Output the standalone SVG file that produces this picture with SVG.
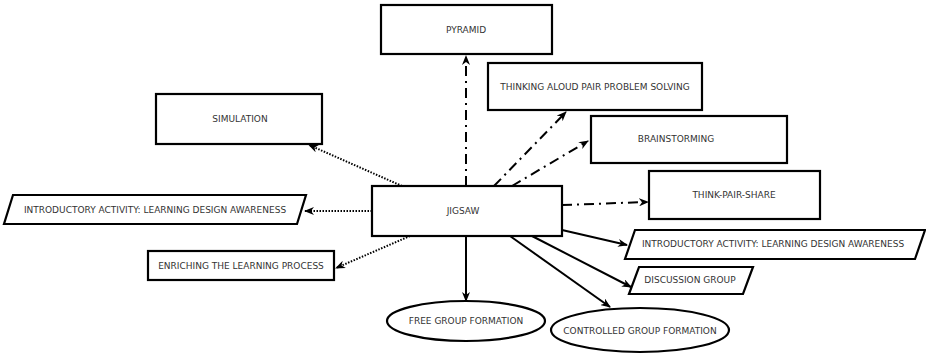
<svg xmlns="http://www.w3.org/2000/svg" width="926" height="359" viewBox="0 0 926 359">
  <style>
    .box { fill: #fff; stroke: #000; stroke-width: 2.2; }
    .lbl { font-family: "DejaVu Sans", "Liberation Sans", sans-serif; font-size: 9px; fill: #333; text-anchor: middle; dominant-baseline: central; }
    .edge { fill: none; stroke: #000; stroke-width: 2; }
    .dashdot { stroke-dasharray: 10 5 2 5; }
    .dotted { stroke-dasharray: 1.5 1.5; }
  </style>
  <defs>
    <marker id="arrow" viewBox="0 0 10 8" refX="9" refY="4" markerWidth="10" markerHeight="8" markerUnits="userSpaceOnUse" orient="auto">
      <path d="M0,0 L10,4 L0,8 L3,4 z" fill="#000"/>
    </marker>
  </defs>

  <g id="connectors">
    <!-- dash-dot -->
    <line class="edge dashdot" x1="466" y1="186" x2="466" y2="56" marker-end="url(#arrow)"/>
    <line class="edge dashdot" x1="494" y1="186" x2="566" y2="112" marker-end="url(#arrow)"/>
    <line class="edge dashdot" x1="512" y1="186" x2="588" y2="141" marker-end="url(#arrow)"/>
    <line class="edge dashdot" x1="562" y1="205" x2="648" y2="202" marker-end="url(#arrow)"/>
    <!-- solid -->
    <line class="edge" x1="562" y1="230" x2="627" y2="245" marker-end="url(#arrow)"/>
    <line class="edge" x1="532" y1="236" x2="631" y2="287" marker-end="url(#arrow)"/>
    <line class="edge" x1="510" y1="236" x2="610" y2="307" marker-end="url(#arrow)"/>
    <line class="edge" x1="466" y1="236" x2="466" y2="301" marker-end="url(#arrow)"/>
    <!-- dotted -->
    <line class="edge dotted" x1="402" y1="186" x2="309" y2="145" marker-end="url(#arrow)"/>
    <line class="edge dotted" x1="372" y1="211" x2="305" y2="211" marker-end="url(#arrow)"/>
    <line class="edge dotted" x1="410" y1="236" x2="336" y2="268" marker-end="url(#arrow)"/>
  </g>

  <g id="pyramid">
    <rect class="box" x="381" y="5" width="171" height="49"/>
    <text class="lbl" x="466" y="30">PYRAMID</text>
  </g>
  <g id="thinking-aloud">
    <rect class="box" x="488" y="63" width="214" height="47"/>
    <text class="lbl" x="595" y="87">THINKING ALOUD PAIR PROBLEM SOLVING</text>
  </g>
  <g id="simulation">
    <rect class="box" x="156" y="94" width="166" height="50"/>
    <text class="lbl" x="240" y="119">SIMULATION</text>
  </g>
  <g id="brainstorming">
    <rect class="box" x="591" y="116" width="196" height="47"/>
    <text class="lbl" x="676" y="139">BRAINSTORMING</text>
  </g>
  <g id="think-pair-share">
    <rect class="box" x="649" y="171" width="171" height="48"/>
    <text class="lbl" x="734" y="195">THINK-PAIR-SHARE</text>
  </g>
  <g id="jigsaw">
    <rect class="box" x="372" y="186" width="190" height="50"/>
    <text class="lbl" x="463" y="211">JIGSAW</text>
  </g>
  <g id="intro-left">
    <polygon class="box" points="13,195 306,195 297,224 4,224"/>
    <text class="lbl" x="155" y="210">INTRODUCTORY ACTIVITY: LEARNING DESIGN AWARENESS</text>
  </g>
  <g id="enriching">
    <rect class="box" x="148" y="251" width="186" height="29"/>
    <text class="lbl" x="241" y="266">ENRICHING THE LEARNING PROCESS</text>
  </g>
  <g id="intro-right">
    <polygon class="box" points="635,230 925,230 915,259 625,259"/>
    <text class="lbl" x="773" y="244">INTRODUCTORY ACTIVITY: LEARNING DESIGN AWARENESS</text>
  </g>
  <g id="discussion">
    <polygon class="box" points="639,267 753,267 743,294 629,294"/>
    <text class="lbl" x="690" y="280">DISCUSSION GROUP</text>
  </g>
  <g id="free-group">
    <ellipse class="box" cx="466" cy="321" rx="79" ry="20"/>
    <text class="lbl" x="466" y="321">FREE GROUP FORMATION</text>
  </g>
  <g id="controlled-group">
    <ellipse class="box" cx="640" cy="330" rx="89" ry="22"/>
    <text class="lbl" x="640" y="331">CONTROLLED GROUP FORMATION</text>
  </g>
</svg>
